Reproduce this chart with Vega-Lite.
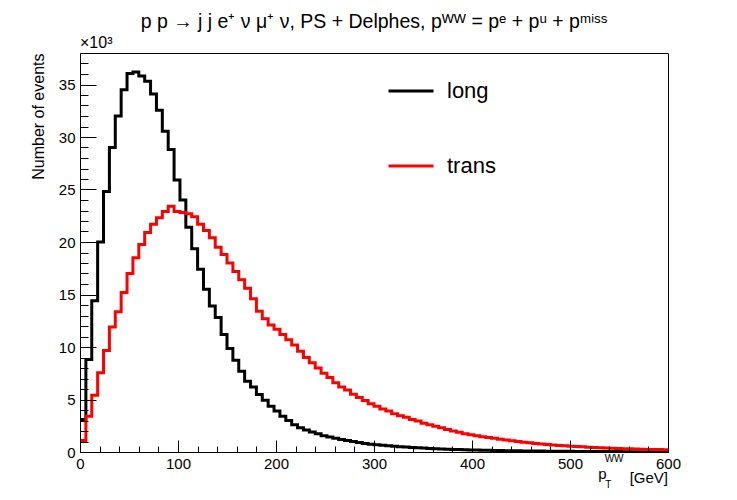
{
"$schema": "https://vega.github.io/schema/vega-lite/v6.json",
"width": 588, "height": 399,
"autosize": "none",
"padding": {"left": 80, "top": 53, "right": 69, "bottom": 48},
"background": "white",
"config": {"font": "Liberation Sans", "view": {"stroke": "black", "strokeWidth": 1, "fill": null}},
"title": {"text": "p p → j j e⁺ ν μ⁺ ν, PS + Delphes, pᵂᵂ = pᵉ + pᵘ + pᵐⁱˢˢ", "fontSize": 19.5, "fontWeight": "normal", "font": "Liberation Sans", "color": "black", "anchor": "middle", "offset": 3},
"datasets": {
"hist": [
{"pt":0,"events":3.1,"sample":"long"},{"pt":6,"events":8.8,"sample":"long"},{"pt":12,"events":14.4,"sample":"long"},{"pt":18,"events":20.0,"sample":"long"},{"pt":24,"events":24.8,"sample":"long"},{"pt":30,"events":29.0,"sample":"long"},{"pt":36,"events":32.0,"sample":"long"},{"pt":42,"events":34.5,"sample":"long"},{"pt":48,"events":36.05,"sample":"long"},{"pt":54,"events":36.2,"sample":"long"},
{"pt":60,"events":35.8,"sample":"long"},{"pt":66,"events":35.3,"sample":"long"},{"pt":72,"events":34.1,"sample":"long"},{"pt":78,"events":32.55,"sample":"long"},{"pt":84,"events":30.55,"sample":"long"},{"pt":90,"events":28.8,"sample":"long"},{"pt":96,"events":25.9,"sample":"long"},{"pt":102,"events":24.0,"sample":"long"},{"pt":108,"events":21.4,"sample":"long"},{"pt":114,"events":19.35,"sample":"long"},
{"pt":120,"events":17.4,"sample":"long"},{"pt":126,"events":15.5,"sample":"long"},{"pt":132,"events":13.9,"sample":"long"},{"pt":138,"events":12.8,"sample":"long"},{"pt":144,"events":11.2,"sample":"long"},{"pt":150,"events":9.85,"sample":"long"},{"pt":156,"events":8.75,"sample":"long"},{"pt":162,"events":7.7,"sample":"long"},{"pt":168,"events":6.75,"sample":"long"},{"pt":174,"events":6.2,"sample":"long"},
{"pt":180,"events":5.48,"sample":"long"},{"pt":186,"events":4.93,"sample":"long"},{"pt":192,"events":4.36,"sample":"long"},{"pt":198,"events":3.9,"sample":"long"},{"pt":204,"events":3.4,"sample":"long"},{"pt":210,"events":3.0,"sample":"long"},{"pt":216,"events":2.6,"sample":"long"},{"pt":222,"events":2.3,"sample":"long"},{"pt":228,"events":2.1,"sample":"long"},{"pt":234,"events":1.9,"sample":"long"},
{"pt":240,"events":1.75,"sample":"long"},{"pt":246,"events":1.55,"sample":"long"},{"pt":252,"events":1.42,"sample":"long"},{"pt":258,"events":1.32,"sample":"long"},{"pt":264,"events":1.2,"sample":"long"},{"pt":270,"events":1.1,"sample":"long"},{"pt":276,"events":1.0,"sample":"long"},{"pt":282,"events":0.9,"sample":"long"},{"pt":288,"events":0.82,"sample":"long"},{"pt":294,"events":0.75,"sample":"long"},
{"pt":300,"events":0.7,"sample":"long"},{"pt":306,"events":0.64,"sample":"long"},{"pt":312,"events":0.6,"sample":"long"},{"pt":318,"events":0.55,"sample":"long"},{"pt":324,"events":0.5,"sample":"long"},{"pt":330,"events":0.47,"sample":"long"},{"pt":336,"events":0.43,"sample":"long"},{"pt":342,"events":0.4,"sample":"long"},{"pt":348,"events":0.37,"sample":"long"},{"pt":354,"events":0.34,"sample":"long"},
{"pt":360,"events":0.31,"sample":"long"},{"pt":366,"events":0.29,"sample":"long"},{"pt":372,"events":0.27,"sample":"long"},{"pt":378,"events":0.25,"sample":"long"},{"pt":384,"events":0.23,"sample":"long"},{"pt":390,"events":0.21,"sample":"long"},{"pt":396,"events":0.2,"sample":"long"},{"pt":402,"events":0.18,"sample":"long"},{"pt":408,"events":0.17,"sample":"long"},{"pt":414,"events":0.16,"sample":"long"},
{"pt":420,"events":0.15,"sample":"long"},{"pt":426,"events":0.14,"sample":"long"},{"pt":432,"events":0.13,"sample":"long"},{"pt":438,"events":0.12,"sample":"long"},{"pt":444,"events":0.11,"sample":"long"},{"pt":450,"events":0.1,"sample":"long"},{"pt":456,"events":0.095,"sample":"long"},{"pt":462,"events":0.09,"sample":"long"},{"pt":468,"events":0.085,"sample":"long"},{"pt":474,"events":0.08,"sample":"long"},
{"pt":480,"events":0.075,"sample":"long"},{"pt":486,"events":0.07,"sample":"long"},{"pt":492,"events":0.065,"sample":"long"},{"pt":498,"events":0.06,"sample":"long"},{"pt":504,"events":0.058,"sample":"long"},{"pt":510,"events":0.055,"sample":"long"},{"pt":516,"events":0.05,"sample":"long"},{"pt":522,"events":0.048,"sample":"long"},{"pt":528,"events":0.045,"sample":"long"},{"pt":534,"events":0.042,"sample":"long"},
{"pt":540,"events":0.04,"sample":"long"},{"pt":546,"events":0.038,"sample":"long"},{"pt":552,"events":0.035,"sample":"long"},{"pt":558,"events":0.033,"sample":"long"},{"pt":564,"events":0.031,"sample":"long"},{"pt":570,"events":0.03,"sample":"long"},{"pt":576,"events":0.028,"sample":"long"},{"pt":582,"events":0.026,"sample":"long"},{"pt":588,"events":0.025,"sample":"long"},{"pt":594,"events":0.024,"sample":"long"},{"pt":600,"events":0.024,"sample":"long"},
{"pt":0,"events":1.1,"sample":"trans"},{"pt":6,"events":3.4,"sample":"trans"},{"pt":12,"events":5.4,"sample":"trans"},{"pt":18,"events":7.55,"sample":"trans"},{"pt":24,"events":9.67,"sample":"trans"},{"pt":30,"events":11.9,"sample":"trans"},{"pt":36,"events":13.35,"sample":"trans"},{"pt":42,"events":15.2,"sample":"trans"},{"pt":48,"events":17.0,"sample":"trans"},{"pt":54,"events":18.5,"sample":"trans"},
{"pt":60,"events":19.76,"sample":"trans"},{"pt":66,"events":20.9,"sample":"trans"},{"pt":72,"events":21.7,"sample":"trans"},{"pt":78,"events":22.3,"sample":"trans"},{"pt":84,"events":22.9,"sample":"trans"},{"pt":90,"events":23.4,"sample":"trans"},{"pt":96,"events":22.9,"sample":"trans"},{"pt":102,"events":22.8,"sample":"trans"},{"pt":108,"events":22.7,"sample":"trans"},{"pt":114,"events":22.4,"sample":"trans"},
{"pt":120,"events":21.7,"sample":"trans"},{"pt":126,"events":21.1,"sample":"trans"},{"pt":132,"events":20.4,"sample":"trans"},{"pt":138,"events":19.5,"sample":"trans"},{"pt":144,"events":18.8,"sample":"trans"},{"pt":150,"events":18.0,"sample":"trans"},{"pt":156,"events":17.2,"sample":"trans"},{"pt":162,"events":16.4,"sample":"trans"},{"pt":168,"events":15.6,"sample":"trans"},{"pt":174,"events":14.6,"sample":"trans"},
{"pt":180,"events":13.4,"sample":"trans"},{"pt":186,"events":12.7,"sample":"trans"},{"pt":192,"events":12.1,"sample":"trans"},{"pt":198,"events":11.7,"sample":"trans"},{"pt":204,"events":11.2,"sample":"trans"},{"pt":210,"events":10.7,"sample":"trans"},{"pt":216,"events":10.2,"sample":"trans"},{"pt":222,"events":9.6,"sample":"trans"},{"pt":228,"events":9.0,"sample":"trans"},{"pt":234,"events":8.5,"sample":"trans"},
{"pt":240,"events":8.0,"sample":"trans"},{"pt":246,"events":7.5,"sample":"trans"},{"pt":252,"events":7.1,"sample":"trans"},{"pt":258,"events":6.6,"sample":"trans"},{"pt":264,"events":6.2,"sample":"trans"},{"pt":270,"events":5.9,"sample":"trans"},{"pt":276,"events":5.5,"sample":"trans"},{"pt":282,"events":5.2,"sample":"trans"},{"pt":288,"events":4.9,"sample":"trans"},{"pt":294,"events":4.6,"sample":"trans"},
{"pt":300,"events":4.35,"sample":"trans"},{"pt":306,"events":4.1,"sample":"trans"},{"pt":312,"events":3.9,"sample":"trans"},{"pt":318,"events":3.65,"sample":"trans"},{"pt":324,"events":3.45,"sample":"trans"},{"pt":330,"events":3.3,"sample":"trans"},{"pt":336,"events":3.1,"sample":"trans"},{"pt":342,"events":2.95,"sample":"trans"},{"pt":348,"events":2.75,"sample":"trans"},{"pt":354,"events":2.6,"sample":"trans"},
{"pt":360,"events":2.45,"sample":"trans"},{"pt":366,"events":2.3,"sample":"trans"},{"pt":372,"events":2.15,"sample":"trans"},{"pt":378,"events":2.0,"sample":"trans"},{"pt":384,"events":1.88,"sample":"trans"},{"pt":390,"events":1.75,"sample":"trans"},{"pt":396,"events":1.65,"sample":"trans"},{"pt":402,"events":1.55,"sample":"trans"},{"pt":408,"events":1.45,"sample":"trans"},{"pt":414,"events":1.38,"sample":"trans"},
{"pt":420,"events":1.3,"sample":"trans"},{"pt":426,"events":1.22,"sample":"trans"},{"pt":432,"events":1.15,"sample":"trans"},{"pt":438,"events":1.08,"sample":"trans"},{"pt":444,"events":1.0,"sample":"trans"},{"pt":450,"events":0.94,"sample":"trans"},{"pt":456,"events":0.88,"sample":"trans"},{"pt":462,"events":0.82,"sample":"trans"},{"pt":468,"events":0.77,"sample":"trans"},{"pt":474,"events":0.72,"sample":"trans"},
{"pt":480,"events":0.67,"sample":"trans"},{"pt":486,"events":0.63,"sample":"trans"},{"pt":492,"events":0.59,"sample":"trans"},{"pt":498,"events":0.55,"sample":"trans"},{"pt":504,"events":0.52,"sample":"trans"},{"pt":510,"events":0.49,"sample":"trans"},{"pt":516,"events":0.46,"sample":"trans"},{"pt":522,"events":0.43,"sample":"trans"},{"pt":528,"events":0.4,"sample":"trans"},{"pt":534,"events":0.38,"sample":"trans"},
{"pt":540,"events":0.36,"sample":"trans"},{"pt":546,"events":0.34,"sample":"trans"},{"pt":552,"events":0.32,"sample":"trans"},{"pt":558,"events":0.3,"sample":"trans"},{"pt":564,"events":0.28,"sample":"trans"},{"pt":570,"events":0.27,"sample":"trans"},{"pt":576,"events":0.25,"sample":"trans"},{"pt":582,"events":0.24,"sample":"trans"},{"pt":588,"events":0.23,"sample":"trans"},{"pt":594,"events":0.22,"sample":"trans"},{"pt":600,"events":0.22,"sample":"trans"}
]
},
"layer": [
{
"data": {"name": "hist"},
"mark": {"type": "line", "interpolate": "step-after", "strokeWidth": 3, "clip": true},
"encoding": {
"x": {"field": "pt", "type": "quantitative", "scale": {"domain": [0, 600], "nice": false, "zero": false},
"axis": {"orient": "bottom", "zindex": 1, "values": [0,100,200,300,400,500,600], "tickSize": -12, "tickColor": "black", "domainColor": "black", "labelColor": "black", "labelFontSize": 15, "labelFont": "Liberation Sans", "labelPadding": 16, "labelFlush": false, "labelOverlap": false, "grid": false, "title": null}},
"y": {"field": "events", "type": "quantitative", "scale": {"domain": [0, 38], "nice": false},
"axis": {"orient": "left", "zindex": 1, "values": [0,5,10,15,20,25,30,35], "tickSize": -16, "tickColor": "black", "domainColor": "black", "labelColor": "black", "labelFontSize": 15, "labelFont": "Liberation Sans", "labelPadding": 21, "labelOverlap": false, "grid": false, "title": "Number of events", "titleFont": "Liberation Sans", "titleFontSize": 16, "titleFontWeight": "normal", "titleColor": "black", "titleAnchor": "end", "titlePadding": 12}},
"color": {"field": "sample", "type": "nominal", "scale": {"domain": ["long", "trans"], "range": ["#000000", "#ff0000"]},
"legend": {"orient": "none", "legendX": 307, "legendY": 14, "title": null, "symbolType": "stroke", "symbolSize": 2025, "symbolStrokeWidth": 3, "labelFontSize": 22, "labelFont": "Liberation Sans", "labelColor": "black", "labelOffset": 12, "rowPadding": 40}}
}
},
{
"data": {"name": "hist"},
"mark": {"type": "point", "opacity": 0},
"encoding": {
"x": {"field": "pt", "type": "quantitative",
"axis": {"orient": "bottom", "zindex": 1, "offset": 0, "values": [20,40,60,80,120,140,160,180,220,240,260,280,320,340,360,380,420,440,460,480,520,540,560,580], "tickSize": -6, "tickColor": "black", "domain": false, "labels": false, "grid": false, "title": null}},
"y": {"field": "events", "type": "quantitative",
"axis": {"orient": "left", "zindex": 1, "offset": 0, "values": [1,2,3,4,6,7,8,9,11,12,13,14,16,17,18,19,21,22,23,24,26,27,28,29,31,32,33,34,36,37], "tickSize": -8, "tickColor": "black", "domain": false, "labels": false, "grid": false, "title": null}}
}
},
{
"data": {"values": [{}]},
"mark": {"type": "text", "align": "left", "baseline": "bottom", "dy": -2, "fontSize": 16, "font": "Liberation Sans", "color": "black"},
"encoding": {"x": {"datum": 0, "type": "quantitative", "axis": null}, "y": {"datum": 38, "type": "quantitative", "axis": null}, "text": {"value": "×10³"}}
},
{
"data": {"values": [{}]},
"mark": {"type": "text", "align": "right", "baseline": "middle", "fontSize": 15, "font": "Liberation Sans", "color": "black"},
"encoding": {"x": {"datum": 600, "type": "quantitative", "axis": null}, "y": {"datum": -2.5, "type": "quantitative", "axis": null}, "text": {"value": "[GeV]"}}
},
{
"data": {"values": [{}]},
"mark": {"type": "text", "align": "center", "baseline": "middle", "fontSize": 15, "font": "Liberation Sans", "color": "black"},
"encoding": {"x": {"datum": 533, "type": "quantitative", "axis": null}, "y": {"datum": -2.1, "type": "quantitative", "axis": null}, "text": {"value": "p"}}
},
{
"data": {"values": [{}]},
"mark": {"type": "text", "align": "center", "baseline": "middle", "fontSize": 10, "font": "Liberation Sans", "color": "black"},
"encoding": {"x": {"datum": 539, "type": "quantitative", "axis": null}, "y": {"datum": -3.1, "type": "quantitative", "axis": null}, "text": {"value": "T"}}
},
{
"data": {"values": [{}]},
"mark": {"type": "text", "align": "center", "baseline": "middle", "fontSize": 10, "font": "Liberation Sans", "color": "black"},
"encoding": {"x": {"datum": 545, "type": "quantitative", "axis": null}, "y": {"datum": -0.65, "type": "quantitative", "axis": null}, "text": {"value": "WW"}}
}
],
"resolve": {"axis": {"x": "independent", "y": "independent"}}
}
